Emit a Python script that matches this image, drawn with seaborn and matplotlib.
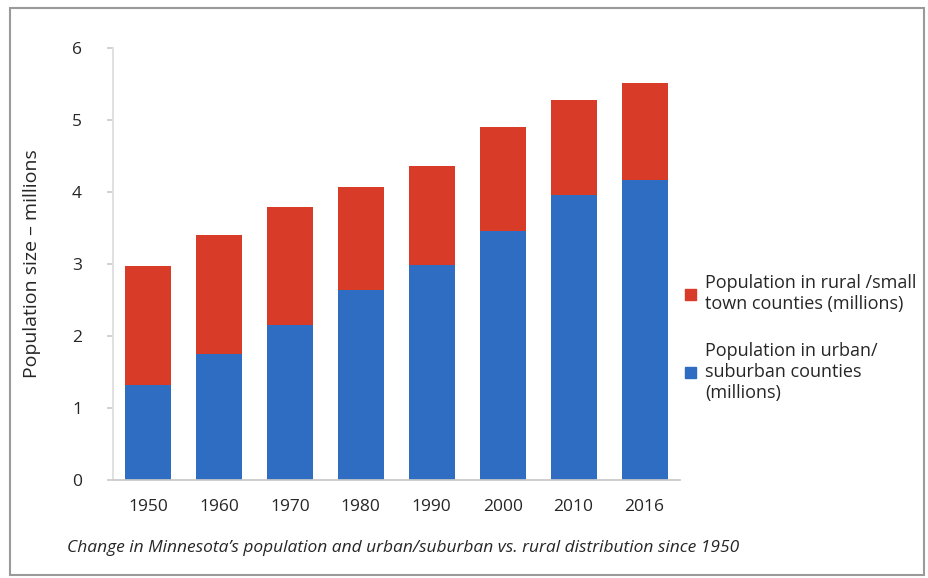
import matplotlib
matplotlib.use("Agg")
import matplotlib.pyplot as plt
import matplotlib.patches as mpatches
import seaborn as sns
import pandas as pd

# Datos (millones)
years = ["1950", "1960", "1970", "1980", "1990", "2000", "2010", "2016"]
urban = [1.32, 1.75, 2.15, 2.64, 2.99, 3.46, 3.96, 4.17]
total = [2.97, 3.40, 3.79, 4.07, 4.36, 4.90, 5.28, 5.51]

rural_label = "Population in rural /small\ntown counties (millions)"
urban_label = "Population in urban/\nsuburban counties\n(millions)"
caption = "Change in Minnesota\u2019s population and urban/suburban vs. rural distribution since 1950"

red = "#D83B28"
blue = "#2E6DC2"

sns.set_theme(style="white")
plt.rcParams["font.family"] = ["Open Sans", "DejaVu Sans"]

df = pd.DataFrame({"year": years, "urban": urban, "total": total})

fig = plt.figure(figsize=(9.29, 5.78), dpi=100)
ax = fig.add_axes([0.1211, 0.1696, 0.6109, 0.7474])

# total (rojo) detras, urbano (azul) delante
sns.barplot(data=df, x="year", y="total", color=red, width=0.65, saturation=1,
            linewidth=0, ax=ax)
sns.barplot(data=df, x="year", y="urban", color=blue, width=0.65, saturation=1,
            linewidth=0, ax=ax)

ax.set_ylim(0, 6)
ax.set_xlim(-0.5, 7.5)
ax.set_yticks(range(7))
ax.set_xlabel("")
ax.set_ylabel("Population size \u2013 millions", fontsize=14, labelpad=22)
ax.tick_params(axis="y", labelsize=12.5, length=4, color="#cccccc", pad=18)
ax.tick_params(axis="x", labelsize=12.5, length=0, pad=14)
for s in ["top", "right"]:
    ax.spines[s].set_visible(False)
ax.spines["left"].set_color("#dddddd")
ax.spines["bottom"].set_color("#c8c8c8")
ax.yaxis.set_ticks_position("left")

handles = [mpatches.Patch(color=red, label=rural_label),
           mpatches.Patch(color=blue, label=urban_label)]
fig.legend(handles=handles, loc="center left", bbox_to_anchor=(0.72, 0.415),
           frameon=False, fontsize=13, handlelength=0.6, handleheight=0.6,
           handletextpad=0.5, labelspacing=1.6)

fig.text(0.434, 0.052, caption, fontsize=12.5, style="italic", ha="center", va="center")

# marco exterior
fig.patches.append(mpatches.Rectangle((0.011, 0.006), 0.984, 0.98, transform=fig.transFigure,
                                      fill=False, edgecolor="#9a9a9a", linewidth=1.5))

fig.savefig("out.png", dpi=100)
